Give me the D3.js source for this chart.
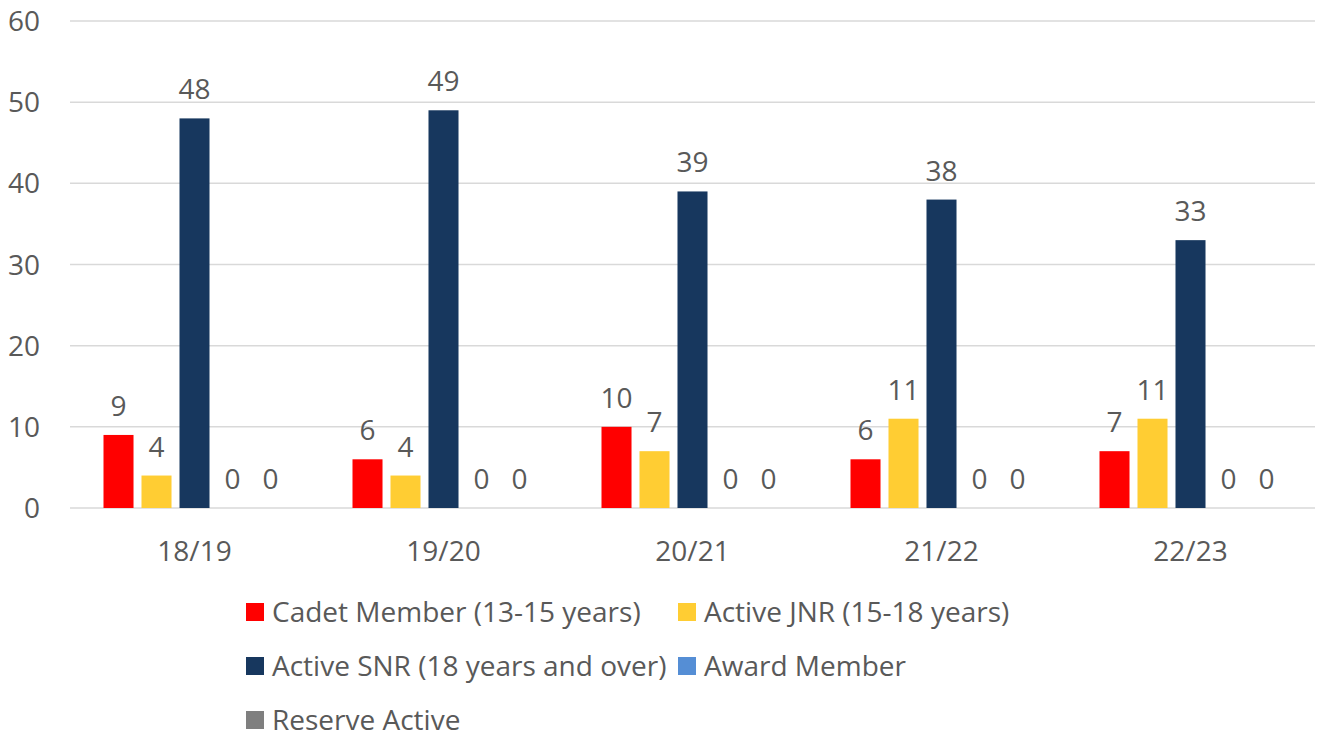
<!DOCTYPE html>
<html>
<head>
<meta charset="utf-8">
<script src="https://cdnjs.cloudflare.com/ajax/libs/d3/7.8.5/d3.min.js"></script>
<style>
  body { margin: 0; background: #fff; }
  text { font-family: "Open Sans", sans-serif; fill: #595959; }
</style>
</head>
<body>
<div id="chart"></div>
<script>
// data
const seasons = ["18/19", "19/20", "20/21", "21/22", "22/23"];
const seriesNames = ["Cadet Member (13-15 years)", "Active JNR (15-18 years)", "Active SNR (18 years and over)", "Award Member", "Reserve Active"];
const cadet = [9, 6, 10, 6, 7];
const activeJnr = [4, 4, 7, 11, 11];
const activeSnr = [48, 49, 39, 38, 33];
const award = [0, 0, 0, 0, 0];
const reserve = [0, 0, 0, 0, 0];
const yTicks = [0, 10, 20, 30, 40, 50, 60];

const colors = ["#ff0000", "#ffcd33", "#17375e", "#558ed5", "#7f7f7f"];
const allValues = [cadet, activeJnr, activeSnr, award, reserve];

const svgWidth = 1322;
const svgHeight = 732;
const plot = { left: 70, right: 1315, top: 21, bottom: 508 };
const fontSize = 28;

const svg = d3.select("#chart")
    .append("svg")
    .attr("width", svgWidth)
    .attr("height", svgHeight);

const y = d3.scaleLinear().domain([0, 60]).range([plot.bottom, plot.top]);

const x0 = d3.scaleBand()
    .domain(seasons)
    .range([plot.left, plot.right])
    .paddingInner(0.237)
    .paddingOuter(0.1185);

const x1 = d3.scaleBand()
    .domain(d3.range(seriesNames.length))
    .range([0, x0.bandwidth()])
    .paddingInner(0.21)
    .paddingOuter(0.105);

// gridlines
svg.append("g")
    .selectAll("line")
    .data(yTicks)
    .join("line")
    .attr("x1", plot.left)
    .attr("x2", plot.right)
    .attr("y1", d => y(d))
    .attr("y2", d => y(d))
    .attr("stroke", "#d9d9d9")
    .attr("stroke-width", 1.5);

// y tick labels
svg.append("g")
    .selectAll("text")
    .data(yTicks)
    .join("text")
    .attr("x", 40)
    .attr("y", d => y(d))
    .attr("dy", "0.36em")
    .attr("text-anchor", "end")
    .attr("font-size", fontSize)
    .text(d => d);

// category labels
svg.append("g")
    .selectAll("text")
    .data(seasons)
    .join("text")
    .attr("x", d => x0(d) + x0.bandwidth() / 2)
    .attr("y", 561)
    .attr("text-anchor", "middle")
    .attr("font-size", fontSize)
    .text(d => d);

// bars + labels
const rows = [];
seasons.forEach((s, i) => {
    allValues.forEach((vals, k) => {
        rows.push({ season: s, k: k, value: vals[i] });
    });
});

const groups = svg.append("g");

groups.selectAll("rect")
    .data(rows.filter(d => d.value > 0))
    .join("rect")
    .attr("x", d => x0(d.season) + x1(d.k))
    .attr("y", d => y(d.value))
    .attr("width", x1.bandwidth())
    .attr("height", d => y(0) - y(d.value))
    .attr("fill", d => colors[d.k]);

groups.selectAll("text")
    .data(rows)
    .join("text")
    .attr("x", d => x0(d.season) + x1(d.k) + x1.bandwidth() / 2)
    .attr("y", d => y(d.value) - 19)
    .attr("text-anchor", "middle")
    .attr("font-size", fontSize)
    .text(d => d.value);

// legend
const legendPos = [
    { x: 246, y: 612 }, { x: 678, y: 612 },
    { x: 246, y: 666 }, { x: 678, y: 666 },
    { x: 246, y: 720 }
];

const legend = svg.append("g")
    .selectAll("g")
    .data(seriesNames)
    .join("g")
    .attr("transform", (d, i) => `translate(${legendPos[i].x}, ${legendPos[i].y})`);

legend.append("rect")
    .attr("x", 0)
    .attr("y", -9)
    .attr("width", 18)
    .attr("height", 18)
    .attr("fill", (d, i) => colors[i]);

legend.append("text")
    .attr("x", 26)
    .attr("y", 0)
    .attr("dy", "0.36em")
    .attr("font-size", fontSize)
    .text(d => d);
</script>
</body>
</html>
